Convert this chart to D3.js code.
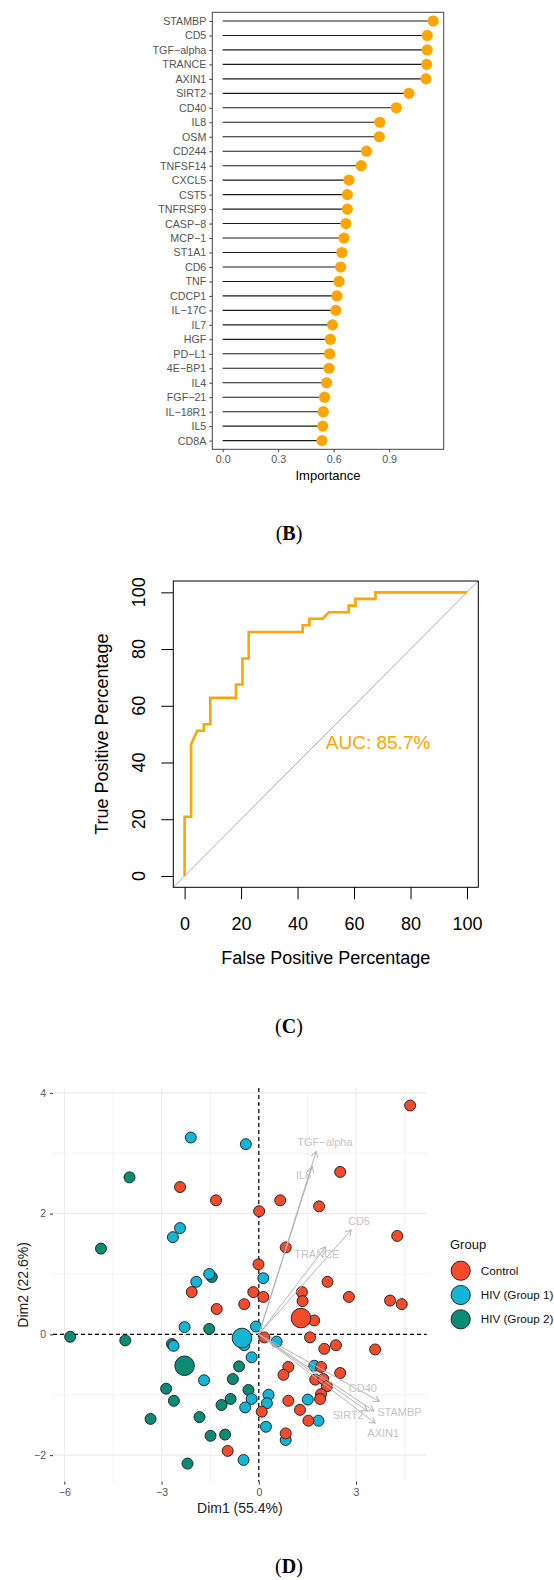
<!DOCTYPE html>
<html>
<head>
<meta charset="utf-8">
<script src="https://cdn.jsdelivr.net/npm/d3@7"></script>
<style>
  body { margin: 0; background: #fff; }
  text { font-family: "Liberation Sans", Arial, sans-serif; }
  .panel-label { font-family: "Liberation Serif", "Times New Roman", serif; }
</style>
</head>
<body>
<svg id="fig" width="554" height="1580"></svg>
<script>
// ---------- data: (B) variable importance ----------
const features = ["STAMBP", "CD5", "TGF-alpha", "TRANCE", "AXIN1", "SIRT2", "CD40", "IL8", "OSM", "CD244",
  "TNFSF14", "CXCL5", "CST5", "TNFRSF9", "CASP-8", "MCP-1", "ST1A1", "CD6", "TNF", "CDCP1",
  "IL-17C", "IL7", "HGF", "PD-L1", "4E-BP1", "IL4", "FGF-21", "IL-18R1", "IL5", "CD8A"];
const importance = [1.138, 1.106, 1.106, 1.103, 1.099, 1.007, 0.939, 0.850, 0.847, 0.778,
  0.749, 0.683, 0.674, 0.674, 0.666, 0.656, 0.645, 0.638, 0.629, 0.618,
  0.612, 0.594, 0.582, 0.578, 0.575, 0.562, 0.551, 0.544, 0.541, 0.537];
const importanceTicks = [0, 0.3, 0.6, 0.9];

// ---------- data: (C) ROC curve ----------
const rocFpr = [0, 0, 2.3, 2.3, 4.5, 6.8, 6.8, 9.1, 9.1, 18.2, 18.2, 20.5, 20.5, 22.7,
  22.7, 41.8, 41.8, 44.2, 44.2, 48.9, 51.1, 58.1, 58.1, 60.5, 60.5, 67.6, 67.6, 100];
const rocTpr = [0, 20.9, 20.9, 46.5, 51.2, 51.2, 53.5, 53.5, 62.8, 62.8, 67.5, 67.5, 76.7, 76.7,
  86.0, 86.0, 88.4, 88.4, 90.7, 90.7, 93.0, 93.0, 95.3, 95.3, 97.7, 97.7, 100, 100];
const rocTicks = [0, 20, 40, 60, 80, 100];
const aucText = "AUC: 85.7%";

// ---------- data: (D) PCA biplot ----------
const groups = ["Control", "HIV (Group 1)", "HIV (Group 2)"];
const controlPts = [[4.67, 3.79], [2.51, 2.69], [-2.43, 2.44], [-1.32, 2.22], [0.66, 2.22], [1.86, 2.12],
  [0.01, 2.04], [4.27, 1.63], [0.83, 1.44], [-0.01, 1.16], [2.12, 0.87], [-2.07, 0.70], [-0.17, 0.70],
  [1.33, 0.70], [0.14, 0.62], [1.35, 0.55], [2.78, 0.62], [4.05, 0.56], [4.41, 0.50], [-0.45, 0.50],
  [-1.30, 0.42], [1.71, 0.23], [0.17, -0.05], [1.58, -0.05], [2.02, -0.24], [2.38, -0.18], [3.59, -0.25],
  [1.92, -0.54], [0.91, -0.54], [0.76, -0.67], [2.51, -0.64], [1.74, -0.75], [1.99, -0.74], [2.10, -0.86],
  [1.92, -0.99], [1.89, -1.07], [0.91, -1.10], [1.27, -1.25], [1.53, -1.43], [0.83, -1.64], [0.09, -1.28],
  [-0.96, -1.93]];
const hiv1Pts = [[-2.10, 3.26], [-0.40, 3.15], [-2.43, 1.76], [-2.65, 1.61], [-1.53, 1.00], [-1.93, 0.87],
  [0.14, 0.93], [-0.09, 0.13], [-2.29, 0.12], [-2.63, -0.19], [-0.45, -0.18], [0.55, -0.12], [-0.22, -0.38],
  [1.71, -0.52], [-1.69, -0.76], [1.51, -1.08], [1.84, -1.43], [0.83, -1.75], [0.30, -1.00], [0.25, -1.14],
  [-0.22, -1.07], [-0.42, -1.21], [0.22, -1.53], [-0.47, -2.08]];
const hiv2Pts = [[-3.99, 2.60], [-4.87, 1.42], [-1.45, 0.95], [-1.53, 0.09], [-5.82, -0.04], [-4.12, -0.10],
  [-2.68, -0.16], [-0.61, -0.53], [-0.80, -0.74], [-2.86, -0.90], [-2.62, -1.10], [-0.87, -1.07],
  [-1.15, -1.17], [-0.32, -0.92], [-3.34, -1.40], [-1.83, -1.37], [-1.49, -1.68], [-1.04, -1.66],
  [-2.20, -2.14]];
const centroids = [[1.30, 0.27], [-0.52, -0.06], [-2.29, -0.52]];
const varNames = ["TGF-alpha", "IL8", "CD5", "TRANCE", "CD40", "STAMBP", "SIRT2", "AXIN1"];
const varX = [1.77, 1.65, 2.85, 2.06, 3.72, 3.55, 3.35, 3.59];
const varY = [3.03, 2.78, 1.73, 1.45, -1.11, -1.27, -1.27, -1.47];
const varLabX = [2.04, 1.38, 3.09, 1.79, 3.21, 4.34, 2.76, 3.84];
const varLabY = [3.19, 2.63, 1.87, 1.33, -0.89, -1.28, -1.33, -1.64];
const dim1Ticks = [-6, -3, 0, 3];
const dim2Ticks = [-2, 0, 2, 4];

const groupColors = ["#F44B2D", "#13B4D4", "#0C8B74"];
const minus = (s) => String(s).replace(/-/g, "\u2212");

const svg = d3.select("#fig");

// panel letters
function panelLabel(letter, y) {
  const t = svg.append("text").attr("class", "panel-label")
    .attr("x", 289).attr("y", y).attr("text-anchor", "middle")
    .attr("font-size", 20).attr("fill", "#000");
  t.append("tspan").text("(");
  t.append("tspan").attr("font-weight", "bold").text(letter);
  t.append("tspan").text(")");
}

// ================= (B) lollipop =================
const bx = d3.scaleLinear().domain([-0.056, 1.195]).range([212.3, 443.7]);
const by = d3.scalePoint().domain(features).range([12.3, 449.3]).padding(0.6);
const gB = svg.append("g");

gB.selectAll("line.stem").data(features).join("line")
  .attr("class", "stem")
  .attr("x1", bx(0)).attr("x2", (d, i) => bx(importance[i]))
  .attr("y1", (d) => by(d)).attr("y2", (d) => by(d))
  .attr("stroke", "#1a1a1a").attr("stroke-width", 1.1);

gB.selectAll("circle").data(features).join("circle")
  .attr("cx", (d, i) => bx(importance[i])).attr("cy", (d) => by(d))
  .attr("r", 5.6).attr("fill", "#FFA500");

gB.append("rect").attr("x", 212.3).attr("y", 12.3)
  .attr("width", 443.7 - 212.3).attr("height", 449.3 - 12.3)
  .attr("fill", "none").attr("stroke", "#444").attr("stroke-width", 1);

const bAxisY = gB.append("g").attr("transform", "translate(212.3,0)")
  .call(d3.axisLeft(by).tickSize(3).tickPadding(3).tickFormat(minus));
const bAxisX = gB.append("g").attr("transform", "translate(0,449.3)")
  .call(d3.axisBottom(bx).tickValues(importanceTicks).tickFormat(d3.format(".1f")).tickSize(3).tickPadding(3));
[bAxisY, bAxisX].forEach((a) => {
  a.select(".domain").remove();
  a.selectAll("line").attr("stroke", "#444");
  a.selectAll("text").attr("font-size", 10.7).attr("fill", "#555")
    .attr("font-family", "'Liberation Sans', Arial, sans-serif");
});
gB.append("text").attr("x", 328).attr("y", 479.5).attr("text-anchor", "middle")
  .attr("font-size", 13).attr("fill", "#000").text("Importance");

panelLabel("B", 539.5);

// ================= (C) ROC =================
const cx = d3.scaleLinear().domain([-4, 104]).range([173.3, 478.3]);
const cy = d3.scaleLinear().domain([-4, 104]).range([887.3, 581]);
const gC = svg.append("g");

gC.append("line")
  .attr("x1", cx(-4)).attr("y1", cy(-4)).attr("x2", cx(104)).attr("y2", cy(104))
  .attr("stroke", "#aaa").attr("stroke-width", 1);

gC.append("path")
  .datum(rocFpr.map((f, i) => [f, rocTpr[i]]))
  .attr("d", d3.line().x((d) => cx(d[0])).y((d) => cy(d[1])))
  .attr("fill", "none").attr("stroke", "#FFA500").attr("stroke-width", 2.6);

gC.append("rect").attr("x", cx(-4)).attr("y", cy(104))
  .attr("width", cx(104) - cx(-4)).attr("height", cy(-4) - cy(104))
  .attr("fill", "none").attr("stroke", "#000").attr("stroke-width", 1);

const cAxisX = gC.append("g").attr("transform", `translate(0,${cy(-4)})`)
  .call(d3.axisBottom(cx).tickValues(rocTicks).tickSize(12).tickPadding(18));
cAxisX.select(".domain").remove();
cAxisX.selectAll("text").attr("font-size", 18).attr("fill", "#000")
  .attr("font-family", "'Liberation Sans', Arial, sans-serif");

const cAxisY = gC.append("g").attr("transform", `translate(${cx(-4)},0)`)
  .call(d3.axisLeft(cy).tickValues(rocTicks).tickSize(12).tickFormat(""));
cAxisY.select(".domain").remove();
gC.selectAll("text.ylab").data(rocTicks).join("text")
  .attr("class", "ylab")
  .attr("transform", (d) => `translate(145,${cy(d)}) rotate(-90)`)
  .attr("text-anchor", "middle").attr("font-size", 18).attr("fill", "#000")
  .text((d) => d);

gC.append("text").attr("x", cx(50)).attr("y", cy(47)).attr("dy", "0.35em")
  .attr("font-size", 19).attr("fill", "#FFA500").text(aucText);

gC.append("text").attr("x", (cx(-4) + cx(104)) / 2).attr("y", 964)
  .attr("text-anchor", "middle").attr("font-size", 18).text("False Positive Percentage");
gC.append("text")
  .attr("transform", `translate(108,${(cy(-4) + cy(104)) / 2}) rotate(-90)`)
  .attr("text-anchor", "middle").attr("font-size", 18).text("True Positive Percentage");

panelLabel("C", 1033);

// ================= (D) PCA biplot =================
const dx = d3.scaleLinear().domain([-6.35, 5.18]).range([53, 426.7]);
const dy = d3.scaleLinear().domain([-2.44, 4.08]).range([1481.7, 1088]);
const gD = svg.append("g");

// grid
const xMinor = [-4.5, -1.5, 1.5, 4.5], yMinor = [-1, 1, 3];
gD.selectAll("line.vminor").data(xMinor).join("line")
  .attr("x1", (d) => dx(d)).attr("x2", (d) => dx(d)).attr("y1", 1088).attr("y2", 1481.7)
  .attr("stroke", "#f0f0f0").attr("stroke-width", 0.8);
gD.selectAll("line.hminor").data(yMinor).join("line")
  .attr("y1", (d) => dy(d)).attr("y2", (d) => dy(d)).attr("x1", 53).attr("x2", 426.7)
  .attr("stroke", "#f0f0f0").attr("stroke-width", 0.8);
gD.selectAll("line.vmajor").data(dim1Ticks).join("line")
  .attr("x1", (d) => dx(d)).attr("x2", (d) => dx(d)).attr("y1", 1088).attr("y2", 1481.7)
  .attr("stroke", "#ebebeb").attr("stroke-width", 1.1);
gD.selectAll("line.hmajor").data(dim2Ticks).join("line")
  .attr("y1", (d) => dy(d)).attr("y2", (d) => dy(d)).attr("x1", 53).attr("x2", 426.7)
  .attr("stroke", "#ebebeb").attr("stroke-width", 1.1);

// reference lines
gD.append("line").attr("x1", 53).attr("x2", 426.7).attr("y1", dy(0)).attr("y2", dy(0))
  .attr("stroke", "#000").attr("stroke-width", 1.2).attr("stroke-dasharray", "4,3");
gD.append("line").attr("x1", dx(0)).attr("x2", dx(0)).attr("y1", 1088).attr("y2", 1481.7)
  .attr("stroke", "#000").attr("stroke-width", 1.2).attr("stroke-dasharray", "4,3");

// individuals
const ptSets = [hiv2Pts, hiv1Pts, controlPts];
const ptColors = [groupColors[2], groupColors[1], groupColors[0]];
ptSets.forEach((pts, k) => {
  gD.append("g").selectAll("circle").data(pts).join("circle")
    .attr("cx", (d) => dx(d[0])).attr("cy", (d) => dy(d[1])).attr("r", 5.5)
    .attr("fill", ptColors[k]).attr("stroke", "#1a1a1a").attr("stroke-width", 0.9);
});
gD.append("g").selectAll("circle").data(centroids).join("circle")
  .attr("cx", (d) => dx(d[0])).attr("cy", (d) => dy(d[1])).attr("r", 9.8)
  .attr("fill", (d, i) => groupColors[i]).attr("stroke", "#1a1a1a").attr("stroke-width", 0.9);

// variable arrows
svg.append("defs").append("marker")
  .attr("id", "arr").attr("markerUnits", "userSpaceOnUse")
  .attr("markerWidth", 10).attr("markerHeight", 10)
  .attr("refX", 6).attr("refY", 3.5).attr("orient", "auto")
  .append("path").attr("d", "M0,0 L6,3.5 L0,7")
  .attr("fill", "none").attr("stroke", "#b5b5b5").attr("stroke-width", 1);

gD.selectAll("line.arrow").data(varNames).join("line")
  .attr("class", "arrow")
  .attr("x1", dx(0)).attr("y1", dy(0))
  .attr("x2", (d, i) => dx(varX[i])).attr("y2", (d, i) => dy(varY[i]))
  .attr("stroke", "#b5b5b5").attr("stroke-width", 1).attr("marker-end", "url(#arr)");
gD.selectAll("text.var").data(varNames).join("text")
  .attr("class", "var")
  .attr("x", (d, i) => dx(varLabX[i])).attr("y", (d, i) => dy(varLabY[i])).attr("dy", "0.35em")
  .attr("text-anchor", "middle").attr("font-size", 11).attr("fill", "#c4c4c4")
  .text((d) => minus(d));

// axes
const dAxisX = gD.append("g").attr("transform", "translate(0,1481.7)")
  .call(d3.axisBottom(dx).tickValues(dim1Ticks).tickSize(3).tickPadding(4).tickFormat(minus));
const dAxisY = gD.append("g").attr("transform", "translate(53,0)")
  .call(d3.axisLeft(dy).tickValues(dim2Ticks).tickSize(3).tickPadding(4).tickFormat(minus));
[dAxisX, dAxisY].forEach((a) => {
  a.select(".domain").remove();
  a.selectAll("line").attr("stroke", "#333");
  a.selectAll("text").attr("font-size", 10.5).attr("fill", "#555")
    .attr("font-family", "'Liberation Sans', Arial, sans-serif");
});
gD.append("text").attr("x", (53 + 426.7) / 2).attr("y", 1513)
  .attr("text-anchor", "middle").attr("font-size", 14).attr("fill", "#222").text("Dim1 (55.4%)");
gD.append("text").attr("transform", `translate(27.5,${(1088 + 1481.7) / 2}) rotate(-90)`)
  .attr("text-anchor", "middle").attr("font-size", 14).attr("fill", "#222").text("Dim2 (22.6%)");

// legend
const gL = svg.append("g").attr("transform", "translate(450,1248.5)");
gL.append("text").attr("x", 0).attr("y", 0).attr("font-size", 13).attr("fill", "#111").text("Group");
const leg = gL.selectAll("g.item").data(groups).join("g")
  .attr("class", "item").attr("transform", (d, i) => `translate(0,${22.2 + i * 24.3})`);
leg.append("circle").attr("cx", 10.7).attr("cy", 0).attr("r", 9.6)
  .attr("fill", (d, i) => groupColors[i]).attr("stroke", "#1a1a1a").attr("stroke-width", 0.9);
leg.append("text").attr("x", 30.7).attr("y", 0).attr("dy", "0.35em")
  .attr("font-size", 11.7).attr("fill", "#111").text((d) => d);

panelLabel("D", 1573);
</script>
</body>
</html>
